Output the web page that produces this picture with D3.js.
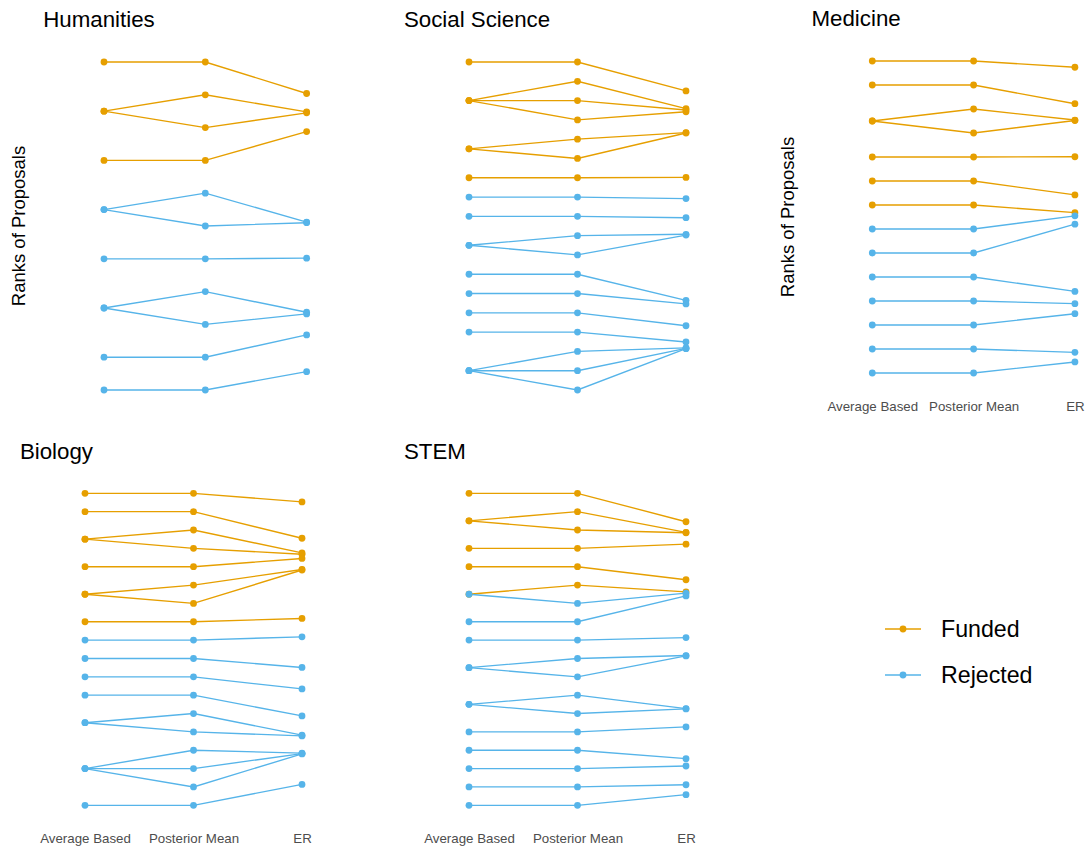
<!DOCTYPE html>
<html>
<head>
<meta charset="utf-8">
<script src="https://cdn.jsdelivr.net/npm/d3@7"></script>
<style>
  html, body { margin: 0; padding: 0; background: #ffffff; }
  svg { display: block; font-family: "Liberation Sans", Arial, sans-serif; }
</style>
</head>
<body>
<svg id="chart" width="1085" height="846"></svg>
<script>
// ---------------- DATA ----------------
const categories = ["Average Based", "Posterior Mean", "ER"];
const panelNames = ["Humanities", "Social Science", "Medicine", "Biology", "STEM"];
const statusLabels = ["Funded", "Rejected"];

// Humanities (11 proposals)
const humAvg  = [1, 2.5, 2.5, 4, 5.5, 5.5, 7, 8.5, 8.5, 10, 11];
const humPost = [1, 2, 3, 4, 5, 6, 7, 8, 9, 10, 11];
const humER   = [1.96, 2.52, 2.55, 3.12, 5.88, 5.9, 6.98, 8.63, 8.68, 9.32, 10.44];
const humStatus = ["Funded","Funded","Funded","Funded","Rejected","Rejected","Rejected","Rejected","Rejected","Rejected","Rejected"];

// Social Science (18 proposals)
const socAvg  = [1, 3, 3, 3, 5.5, 5.5, 7, 8, 9, 10.5, 10.5, 12, 13, 14, 15, 17, 17, 17];
const socPost = [1, 2, 3, 4, 5, 6, 7, 8, 9, 10, 11, 12, 13, 14, 15, 16, 17, 18];
const socER   = [2.5, 3.42, 3.49, 3.58, 4.66, 4.68, 6.98, 8.08, 9.07, 9.93, 9.97, 13.35, 13.54, 14.67, 15.51, 15.82, 15.84, 15.86];
const socStatus = ["Funded","Funded","Funded","Funded","Funded","Funded","Funded",
  "Rejected","Rejected","Rejected","Rejected","Rejected","Rejected","Rejected","Rejected","Rejected","Rejected","Rejected"];

// Medicine (14 proposals)
const medAvg  = [1, 2, 3.5, 3.5, 5, 6, 7, 8, 9, 10, 11, 12, 13, 14];
const medPost = [1, 2, 3, 4, 5, 6, 7, 8, 9, 10, 11, 12, 13, 14];
const medER   = [1.26, 2.78, 3.46, 3.48, 4.99, 6.58, 7.32, 7.45, 7.8, 10.6, 11.11, 11.53, 13.14, 13.54];
const medStatus = ["Funded","Funded","Funded","Funded","Funded","Funded","Funded",
  "Rejected","Rejected","Rejected","Rejected","Rejected","Rejected","Rejected"];

// Biology (18 proposals)
const bioAvg  = [1, 2, 3.5, 3.5, 5, 6.5, 6.5, 8, 9, 10, 11, 12, 13.5, 13.5, 16, 16, 16, 18];
const bioPost = [1, 2, 3, 4, 5, 6, 7, 8, 9, 10, 11, 12, 13, 14, 15, 16, 17, 18];
const bioER   = [1.47, 3.45, 4.25, 4.32, 4.55, 5.15, 5.18, 7.82, 8.82, 10.49, 11.66, 13.13, 14.18, 14.22, 15.16, 15.18, 15.2, 16.86];
const bioStatus = ["Funded","Funded","Funded","Funded","Funded","Funded","Funded","Funded",
  "Rejected","Rejected","Rejected","Rejected","Rejected","Rejected","Rejected","Rejected","Rejected","Rejected"];

// STEM (18 proposals)
const stemAvg  = [1, 2.5, 2.5, 4, 5, 6.5, 6.5, 8, 9, 10.5, 10.5, 12.5, 12.5, 14, 15, 16, 17, 18];
const stemPost = [1, 2, 3, 4, 5, 6, 7, 8, 9, 10, 11, 12, 13, 14, 15, 16, 17, 18];
const stemER   = [2.55, 3.13, 3.15, 3.77, 5.71, 6.37, 6.44, 6.59, 8.86, 9.84, 9.86, 12.73, 12.75, 13.73, 15.46, 15.86, 16.88, 17.42];
const stemStatus = ["Funded","Funded","Funded","Funded","Funded","Funded",
  "Rejected","Rejected","Rejected","Rejected","Rejected","Rejected","Rejected","Rejected","Rejected","Rejected","Rejected","Rejected"];

// ---------------- BUILD ----------------
const panelData = {
  "Humanities":     [humAvg, humPost, humER, humStatus],
  "Social Science": [socAvg, socPost, socER, socStatus],
  "Medicine":       [medAvg, medPost, medER, medStatus],
  "Biology":        [bioAvg, bioPost, bioER, bioStatus],
  "STEM":           [stemAvg, stemPost, stemER, stemStatus]
};

// layout (panel boxes)
const layout = {
  "Humanities":     {x: 43.2,  y: 45.6,  w: 324.2, h: 360.8, yTitle: true,  xAxis: false},
  "Social Science": {x: 403.9, y: 45.6,  w: 347.2, h: 360.8, yTitle: false, xAxis: false},
  "Medicine":       {x: 811.5, y: 45.4,  w: 324.2, h: 343.2, yTitle: true,  xAxis: true},
  "Biology":        {x: 19.9,  y: 477.7, w: 347.2, h: 343.2, yTitle: false, xAxis: true},
  "STEM":           {x: 403.9, y: 477.7, w: 347.2, h: 343.2, yTitle: false, xAxis: true}
};

const color = d3.scaleOrdinal().domain(statusLabels).range(["#E69F00", "#56B4E9"]);
const svg = d3.select("#chart");
svg.append("rect").attr("width", 1085).attr("height", 846).attr("fill", "#ffffff");

panelNames.forEach(name => {
  const [avg, post, er, status] = panelData[name];
  const L = layout[name];
  const n = d3.max(post);
  const pad = 0.05 * (n - 1);

  const x = d3.scalePoint().domain(categories).range([L.x, L.x + L.w]).padding(0.6);
  const y = d3.scaleLinear().domain([1 - pad, n + pad]).range([L.y, L.y + L.h]);

  const rows = avg.map((a, i) => ({
    status: status[i],
    pts: [[categories[0], a], [categories[1], post[i]], [categories[2], er[i]]]
  }));
  rows.sort((a, b) => statusLabels.indexOf(a.status) - statusLabels.indexOf(b.status));

  const g = svg.append("g");
  const line = d3.line().x(d => x(d[0])).y(d => y(d[1]));

  g.selectAll("path.l").data(rows).join("path")
    .attr("class", "l")
    .attr("d", d => line(d.pts))
    .attr("fill", "none")
    .attr("stroke", d => color(d.status))
    .attr("stroke-width", 1.35);

  rows.forEach(r => {
    g.selectAll(null).data(r.pts).join("circle")
      .attr("cx", d => x(d[0]))
      .attr("cy", d => y(d[1]))
      .attr("r", 3.4)
      .attr("fill", color(r.status));
  });

  // title
  svg.append("text")
    .attr("x", L.x).attr("y", L.y - 19)
    .attr("font-size", 22.3).attr("fill", "#000")
    .text(name);

  // y axis title
  if (L.yTitle) {
    const cx = L.x - 24.5, cy = L.y + L.h / 2;
    svg.append("text")
      .attr("transform", `translate(${cx},${cy}) rotate(-90)`)
      .attr("text-anchor", "middle")
      .attr("dominant-baseline", "central")
      .attr("font-size", 18.5).attr("fill", "#000")
      .text("Ranks of Proposals");
  }

  // x axis
  if (L.xAxis) {
    const ax = svg.append("g")
      .attr("transform", `translate(0,${L.y + L.h})`)
      .call(d3.axisBottom(x).tickSize(0).tickPadding(13));
    ax.select(".domain").remove();
    ax.selectAll("text")
      .attr("font-size", 13.3)
      .attr("font-family", "Liberation Sans, Arial, sans-serif")
      .attr("fill", "#4D4D4D");
  }
});

// ---------------- LEGEND ----------------
const legY = d3.scalePoint().domain(statusLabels).range([629, 675]);
const leg = svg.append("g");
statusLabels.forEach(s => {
  const yy = legY(s);
  leg.append("line").attr("x1", 885).attr("x2", 921).attr("y1", yy).attr("y2", yy)
    .attr("stroke", color(s)).attr("stroke-width", 1.3);
  leg.append("circle").attr("cx", 903).attr("cy", yy).attr("r", 3.4).attr("fill", color(s));
  leg.append("text").attr("x", 941).attr("y", yy)
    .attr("dominant-baseline", "central")
    .attr("font-size", 23.2).attr("fill", "#000").text(s);
});
</script>
</body>
</html>
